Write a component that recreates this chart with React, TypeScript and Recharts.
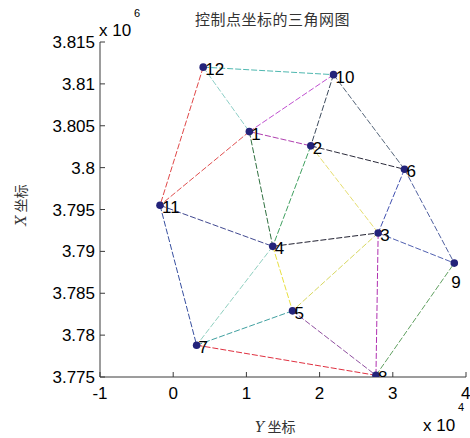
import React from 'react';
import { ScatterChart, Scatter, XAxis, YAxis } from 'recharts';

// control points: x in 10^4, y in 10^6
const pointIds = [1, 2, 3, 4, 5, 6, 7, 8, 9, 10, 11, 12];
const pointX = [1.04, 1.88, 2.8, 1.36, 1.63, 3.16, 0.32, 2.77, 3.84, 2.19, -0.18, 0.41];
const pointY = [3.8043, 3.8026, 3.7922, 3.7906, 3.7829, 3.7998, 3.7788, 3.7752, 3.7886, 3.8111, 3.7955, 3.812];

// triangle edges (point ids)
const edgeFrom = [12, 12, 12, 10, 10, 10, 1, 1, 1, 2, 2, 2, 6, 6, 11, 11, 4, 4, 4, 3, 3, 3, 5, 5, 7, 8];
const edgeTo = [10, 1, 11, 1, 2, 6, 2, 11, 4, 4, 6, 3, 3, 9, 4, 7, 3, 5, 7, 5, 8, 9, 7, 8, 8, 9];
const edgeColors = [
  '#4fb8b0', '#8fd0c8', '#e04848', '#c050d0', '#3c4a5c', '#56667a',
  '#b040b0', '#e05050', '#2f7040', '#40a060', '#2a2a3a', '#e6de70',
  '#4050b0', '#5060a0', '#404890', '#3850a0', '#202030', '#e8e040',
  '#90d0c0', '#d8d860', '#b030b0', '#5060b0', '#40a0a0', '#9050a0',
  '#e03040', '#60a060',
];

const xTicks = [-1, 0, 1, 2, 3, 4];
const yTicks = [3.775, 3.78, 3.785, 3.79, 3.795, 3.8, 3.805, 3.81, 3.815];

const points = pointIds.map((id, i) => ({ id, x: pointX[i], y: pointY[i] }));
const pointById = (id: number) => points[pointIds.indexOf(id)];
const edges = edgeFrom.map((f, i) => ({
  color: edgeColors[i],
  data: [pointById(f), pointById(edgeTo[i])],
}));

const tickFont = { fill: '#000', fontSize: 17, fontFamily: 'Liberation Sans, Arial, sans-serif' };
const axisColor = '#3a3a3a';
const fmtY = (v: number) => String(Number(v.toFixed(3)));
const blank = () => '';

const Hidden = () => <g />;

const PointShape = (props: any) => {
  const { cx, cy, payload } = props;
  const below = payload.id === 9;
  return (
    <g>
      <circle cx={cx} cy={cy} r={3.8} fill="#23237a" />
      <text
        x={below ? cx - 3 : cx + 2}
        y={below ? cy + 25 : cy + 8}
        fontSize={17}
        fontFamily="Liberation Sans, Arial, sans-serif"
        fill="#000"
      >
        {payload.id}
      </text>
    </g>
  );
};

export default function App() {
  const txt: React.CSSProperties = {
    position: 'absolute',
    fontFamily: 'Liberation Sans, Arial, sans-serif',
    color: '#000',
    whiteSpace: 'nowrap',
    lineHeight: 1,
  };
  return (
    <div style={{ position: 'absolute', left: 0, top: 0, width: 470, height: 438, background: '#fff' }}>
      <ScatterChart width={470} height={438} margin={{ top: 42, right: 4, bottom: 0, left: 0 }}>
        <XAxis
          xAxisId="b"
          type="number"
          dataKey="x"
          domain={[-1, 4]}
          ticks={xTicks}
          allowDataOverflow
          height={61}
          stroke={axisColor}
          tickSize={-5}
          tickMargin={15}
          tick={tickFont}
        />
        <XAxis
          xAxisId="t"
          orientation="top"
          type="number"
          dataKey="x"
          domain={[-1, 4]}
          ticks={xTicks}
          allowDataOverflow
          height={0}
          stroke={axisColor}
          tickSize={-5}
          tickFormatter={blank}
        />
        <YAxis
          yAxisId="l"
          type="number"
          dataKey="y"
          domain={[3.775, 3.815]}
          ticks={yTicks}
          allowDataOverflow
          width={100}
          stroke={axisColor}
          tickSize={-5}
          tickMargin={10}
          tick={tickFont}
          tickFormatter={fmtY}
        />
        <YAxis
          yAxisId="r"
          orientation="right"
          type="number"
          dataKey="y"
          domain={[3.775, 3.815]}
          ticks={yTicks}
          allowDataOverflow
          width={0}
          stroke={axisColor}
          tickSize={-5}
          tickFormatter={blank}
        />
        {edges.map((e, i) => (
          <Scatter
            key={i}
            xAxisId="b"
            yAxisId="l"
            data={e.data}
            line={{ stroke: e.color, strokeWidth: 1, strokeDasharray: '6 2' }}
            lineType="joint"
            shape={Hidden}
            isAnimationActive={false}
          />
        ))}
        <Scatter
          xAxisId="b"
          yAxisId="l"
          data={points}
          shape={PointShape}
          isAnimationActive={false}
        />
      </ScatterChart>

      <div style={{ ...txt, left: 195, top: 11, fontSize: 15, color: '#333', fontFamily: 'Noto Sans CJK SC, serif', letterSpacing: 0.5 }}>
        控制点坐标的三角网图
      </div>
      <div style={{ ...txt, left: 99, top: 22, fontSize: 17 }}>x 10</div>
      <div style={{ ...txt, left: 134, top: 8, fontSize: 11 }}>6</div>
      <div style={{ ...txt, left: 423, top: 417, fontSize: 17 }}>x 10</div>
      <div style={{ ...txt, left: 458, top: 402, fontSize: 11 }}>4</div>
      <div style={{ ...txt, left: 255, top: 419, fontSize: 14, color: '#333', fontFamily: 'Noto Sans CJK SC, serif' }}>
        <i style={{ fontFamily: 'DejaVu Serif, serif' }}>Y</i> 坐标
      </div>
      <div
        style={{
          ...txt,
          left: 20,
          top: 205,
          fontSize: 14,
          color: '#333',
          fontFamily: 'Noto Sans CJK SC, serif',
          transform: 'translate(-50%, -50%) rotate(-90deg)',
        }}
      >
        <i style={{ fontFamily: 'DejaVu Serif, serif' }}>X</i> 坐标
      </div>
    </div>
  );
}
